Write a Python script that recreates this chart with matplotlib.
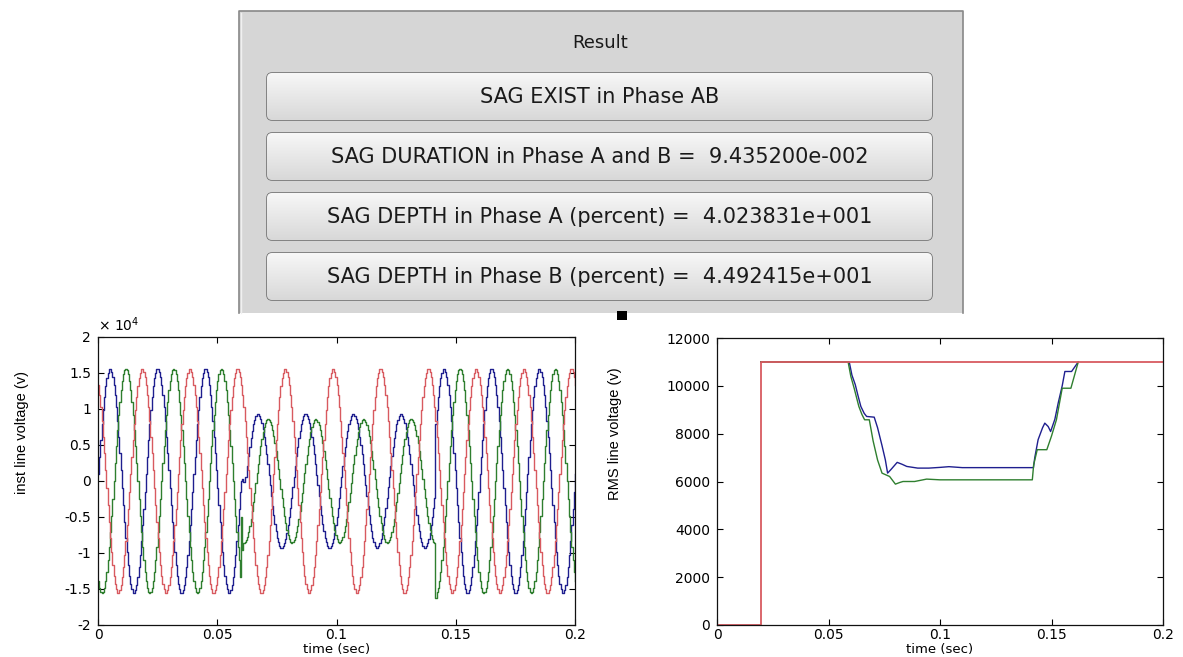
import numpy as np
import matplotlib.pyplot as plt
from matplotlib.colors import LinearSegmentedColormap
from matplotlib.patches import Rectangle, FancyBboxPatch

# ---------------- data ----------------
# instantaneous line voltages: 50 Hz, sampled, one sag segment
f_hz = 50.0
ts = 0.0005
seg_edges = [0.0, 0.0598, 0.1412, 0.2]      # start of sag, end of sag
amp_a = [15556, 9300, 15556]                # peak volts per segment
peak_a = [0.0048, 0.0668, 0.0048]           # time of a positive peak
amp_b = [15556, 8570, 15556]
peak_b = [0.0115, 0.0711, 0.0115]
amp_c = [15556, 15556, 15556]
peak_c = [0.0183, 0.0183, 0.0183]
# switching transients seen at the sag edges
trans_a_t = [0.0600, 0.0605, 0.0610, 0.0615]
trans_a_v = [0, 300, -200, 500]
trans_b_t = [0.0595, 0.0600, 0.0605, 0.1415]
trans_b_v = [-13300, -5000, -9600, -16300]

# RMS line voltages
rms_c_t = [0.0, 0.0196, 0.0196, 0.2]
rms_c_v = [0, 0, 11000, 11000]
rms_a_t = [0.0196, 0.0593, 0.0605, 0.0620, 0.0632, 0.0645, 0.0660, 0.0671, 0.0705, 0.0720,
           0.0740, 0.0755, 0.0765, 0.0780, 0.0808, 0.0830, 0.0851, 0.0900, 0.0950, 0.1000,
           0.1040, 0.1100, 0.1419, 0.1425, 0.1440, 0.1460, 0.1470, 0.1485, 0.1496, 0.1515,
           0.1530, 0.1548, 0.1560, 0.1590, 0.1605, 0.1620]
rms_a_v = [11000, 11000, 10450, 10050, 9600, 9140, 8850, 8720, 8690, 8250,
           7500, 6900, 6350, 6500, 6800, 6720, 6630, 6560, 6560, 6590,
           6620, 6580, 6580, 7000, 7750, 8250, 8440, 8300, 8090, 8600,
           9280, 10000, 10600, 10600, 10800, 11000]
rms_b_t = [0.0196, 0.0588, 0.0600, 0.0615, 0.0636, 0.0650, 0.0662, 0.0683, 0.0700, 0.0720,
           0.0740, 0.0774, 0.0800, 0.0820, 0.0834, 0.0886, 0.0940, 0.1000, 0.1100, 0.1414,
           0.1420, 0.1436, 0.1479, 0.1500, 0.1522, 0.1548, 0.1587, 0.1605, 0.1620]
rms_b_v = [11000, 11000, 10400, 9900, 9140, 8800, 8580, 8580, 7700, 6900,
           6350, 6210, 5890, 5960, 6000, 6000, 6100, 6070, 6070, 6070,
           6700, 7330, 7330, 7900, 8580, 9900, 9900, 10500, 11000]

# GUI result panel texts
panel_title = 'Result'
button_texts = ['SAG EXIST in Phase AB',
                'SAG DURATION in Phase A and B =  9.435200e-002',
                'SAG DEPTH in Phase A (percent) =  4.023831e+001',
                'SAG DEPTH in Phase B (percent) =  4.492415e+001']

xticks = [0, 0.05, 0.1, 0.15, 0.2]
xtick_labels = ['0', '0.05', '0.1', '0.15', '0.2']
inst_ticks = [-2e4, -1.5e4, -1e4, -0.5e4, 0, 0.5e4, 1e4, 1.5e4, 2e4]
inst_labels = ['-2', '-1.5', '-1', '-0.5', '0', '0.5', '1', '1.5', '2']
rms_ticks = [0, 2000, 4000, 6000, 8000, 10000, 12000]

c_blue = '#1f1f8f'
c_green = '#2f7f2f'
c_red = '#d85a60'


def phase_wave(t, amps, peaks, tr_t, tr_v):
    v = np.zeros_like(t)
    for i in range(len(amps)):
        m = (t >= seg_edges[i]) & (t < seg_edges[i + 1] + 1e-12)
        v[m] = amps[i] * np.cos(2 * np.pi * f_hz * (t[m] - peaks[i]))
    for tt, vv in zip(tr_t, tr_v):
        v[np.argmin(np.abs(t - tt))] = vv
    return v


t = np.arange(0, 0.2 + ts / 2, ts)
va = phase_wave(t, amp_a, peak_a, trans_a_t, trans_a_v)
vb = phase_wave(t, amp_b, peak_b, trans_b_t, trans_b_v)
vc = phase_wave(t, amp_c, peak_c, [], [])

W, H = 1183, 657
fig = plt.figure(figsize=(W / 100, H / 100), dpi=100)
fig.patch.set_facecolor('white')

# ---------------- GUI panel (drawn in pixel coords) ----------------
bg = fig.add_axes([0, 0, 1, 1])
bg.axis('off')
bg.add_patch(Rectangle((239, 11), 724, 302, fc='#d6d6d6', ec='none'))
bg.plot([239, 239, 963, 963], [313, 11, 11, 313], color='#888888', lw=1.2)
bg.plot([241, 241], [13, 313], color='#f0f0f0', lw=1)
bg.text(600, 43, panel_title, ha='center', va='center', fontsize=13,
        family='DejaVu Sans', color='#1a1a1a')
grad = np.linspace(0, 1, 64).reshape(-1, 1)
btn_cmap = LinearSegmentedColormap.from_list('btn', ['#f7f7f7', '#d8d8d8'])
btn_y = [73, 133, 193, 253]
for y0, txt in zip(btn_y, button_texts):
    box = FancyBboxPatch((267, y0), 665, 47, boxstyle='round,pad=0,rounding_size=5',
                         fc='#e9e9e9', ec='#6c6c6c', lw=1.1, zorder=2)
    bg.add_patch(box)
    im = bg.imshow(grad, cmap=btn_cmap, extent=(267, 932, y0 + 47, y0),
                   aspect='auto', zorder=2.5)
    im.set_clip_path(box)
    bg.text(600, y0 + 24, txt, ha='center', va='center', fontsize=15,
            family='DejaVu Sans', color='#1a1a1a', zorder=3)
bg.add_patch(Rectangle((617, 311), 10, 9, fc='black', ec='none'))
bg.set_xlim(0, W)
bg.set_ylim(H, 0)


def style_axes(ax):
    ax.tick_params(direction='in', top=True, right=True, length=4, width=0.8,
                   labelsize=10, colors='black')
    ax.tick_params(axis='x', pad=2)
    ax.tick_params(axis='y', pad=5)
    for s in ax.spines.values():
        s.set_linewidth(0.9)
        s.set_color('#111111')
    ax.set_xlim(0, 0.2)
    ax.set_xticks(xticks)
    ax.set_xticklabels(xtick_labels)
    ax.set_xlabel('time (sec)', fontsize=9.5, va='center')
    ax.xaxis.set_label_coords(0.5, -0.085)


# ---------------- instantaneous voltage plot ----------------
ax1 = fig.add_axes([98 / W, 1 - 625 / H, 477 / W, 288 / H])
ax1.plot(t, va, color=c_blue, lw=1.0, drawstyle='steps-post')
ax1.plot(t, vb, color=c_green, lw=1.0, drawstyle='steps-post')
ax1.plot(t, vc, color=c_red, lw=1.0, drawstyle='steps-post')
ax1.set_ylim(-2e4, 2e4)
ax1.set_yticks(inst_ticks)
ax1.set_yticklabels(inst_labels)
style_axes(ax1)
ax1.set_ylabel('inst line voltage (v)', fontsize=10.5, family='Liberation Sans')
ax1.yaxis.set_label_coords(-0.145, 0.667)
ax1.text(0.0, 1.012, r'$\times$ 10$^4$', transform=ax1.transAxes,
         fontsize=10, ha='left', va='bottom')

# ---------------- RMS voltage plot ----------------
ax2 = fig.add_axes([717 / W, 1 - 625 / H, 446 / W, 287 / H])
ax2.plot(rms_a_t, rms_a_v, color=c_blue, lw=1.0)
ax2.plot(rms_b_t, rms_b_v, color=c_green, lw=1.0)
ax2.plot(rms_c_t, rms_c_v, color=c_red, lw=1.3)
ax2.set_ylim(0, 12000)
ax2.set_yticks(rms_ticks)
style_axes(ax2)
ax2.set_ylabel('RMS line voltage (v)', fontsize=10.5, family='Liberation Sans')
ax2.yaxis.set_label_coords(-0.213, 0.665)

fig.savefig('out.png', dpi=100)
